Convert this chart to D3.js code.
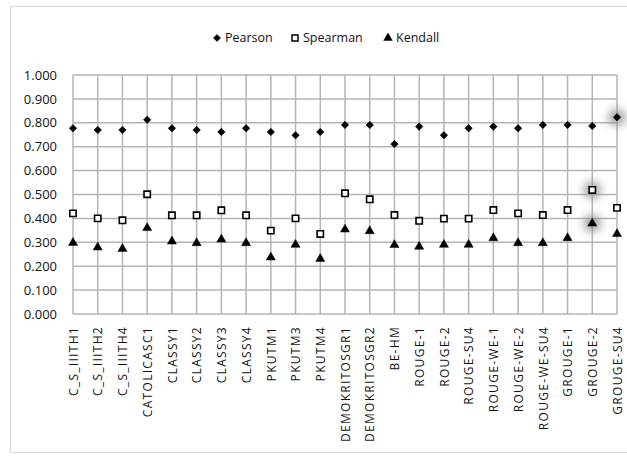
<!DOCTYPE html>
<html>
<head>
<meta charset="utf-8">
<script src="https://cdn.jsdelivr.net/npm/d3@7"></script>
<style>
  body { margin: 0; background: #fff; }
  text { font-family: "Open Sans", sans-serif; fill: #111; }
</style>
</head>
<body>
<div id="chart"></div>
<script>
const systems = ['C_S_IIITH1', 'C_S_IIITH2', 'C_S_IIITH4', 'CATOLICASC1', 'CLASSY1', 'CLASSY2',
  'CLASSY3', 'CLASSY4', 'PKUTM1', 'PKUTM3', 'PKUTM4', 'DEMOKRITOSGR1', 'DEMOKRITOSGR2', 'BE-HM',
  'ROUGE-1', 'ROUGE-2', 'ROUGE-SU4', 'ROUGE-WE-1', 'ROUGE-WE-2', 'ROUGE-WE-SU4', 'GROUGE-1',
  'GROUGE-2', 'GROUGE-SU4']
const pearson = [0.777, 0.770, 0.770, 0.813, 0.777, 0.770, 0.762, 0.777, 0.762, 0.748, 0.762,
  0.791, 0.791, 0.711, 0.784, 0.748, 0.777, 0.784, 0.777, 0.791, 0.791, 0.787, 0.823]
const spearman = [0.421, 0.400, 0.392, 0.501, 0.413, 0.413, 0.434, 0.413, 0.349, 0.400, 0.335,
  0.505, 0.480, 0.414, 0.390, 0.399, 0.399, 0.435, 0.421, 0.414, 0.435, 0.519, 0.444]
const kendall = [0.298, 0.279, 0.273, 0.360, 0.304, 0.297, 0.312, 0.297, 0.237, 0.290, 0.231,
  0.354, 0.347, 0.289, 0.282, 0.290, 0.290, 0.318, 0.297, 0.297, 0.318, 0.379, 0.335]
const yTicks = [0, 0.1, 0.2, 0.3, 0.4, 0.5, 0.6, 0.7, 0.8, 0.9, 1.0]
// points that carry the grey glow in the original
const highlighted = [['Pearson', 'GROUGE-SU4'], ['Spearman', 'GROUGE-2'], ['Kendall', 'GROUGE-2']]

const series = [
  {name: 'Pearson', values: pearson, symbol: d3.symbolDiamond2, fill: '#000', size: 36},
  {name: 'Spearman', values: spearman, symbol: d3.symbolSquare, fill: 'none', size: 40},
  {name: 'Kendall', values: kendall, symbol: d3.symbolTriangle, fill: '#000', size: 36}
]

const W = 627, H = 459
const margin = {top: 75, right: 10, bottom: 145, left: 73}

const svg = d3.select('#chart').append('svg')
  .attr('width', W)
  .attr('height', H)

const defs = svg.append('defs')
defs.append('filter').attr('id', 'glow')
  .attr('x', '-150%').attr('y', '-150%').attr('width', '400%').attr('height', '400%')
  .append('feGaussianBlur').attr('stdDeviation', 4.5)

// outer chart frame
svg.append('rect')
  .attr('x', 10.5).attr('y', 6.5)
  .attr('width', 640).attr('height', 446)
  .attr('fill', '#fff')
  .attr('stroke', '#d9d9d9')

const x = d3.scalePoint()
  .domain(systems)
  .range([margin.left, W - margin.right])
const y = d3.scaleLinear()
  .domain([0, 1])
  .range([H - margin.bottom, margin.top])

// grid
const grid = svg.append('g')
grid.selectAll('.hgrid').data(yTicks)
  .enter().append('line')
  .attr('x1', margin.left).attr('x2', W - margin.right)
  .attr('y1', d => y(d)).attr('y2', d => y(d))
  .attr('stroke', '#b4b4b4').attr('stroke-width', 1.5)
grid.selectAll('.vgrid').data(systems)
  .enter().append('line')
  .attr('x1', d => x(d)).attr('x2', d => x(d))
  .attr('y1', y(0)).attr('y2', y(1))
  .attr('stroke', '#b4b4b4').attr('stroke-width', 1.5)

// y axis
const yAxis = d3.axisLeft(y).tickValues(yTicks).tickFormat(d3.format('.3f')).tickSize(0).tickPadding(16)
svg.append('g')
  .attr('transform', `translate(${margin.left}, 0)`)
  .call(yAxis)
  .call(g => g.select('.domain').remove())
  .selectAll('text')
  .style('font-family', '"Open Sans", sans-serif')
  .style('font-size', '13px')
  .attr('fill', '#111')

// x axis
const xAxis = d3.axisBottom(x).tickSize(0).tickPadding(0)
svg.append('g')
  .attr('transform', `translate(0, ${y(0)})`)
  .call(xAxis)
  .call(g => g.select('.domain').remove())
  .selectAll('text')
  .style('font-family', '"Open Sans", sans-serif')
  .style('font-size', '12px')
  .style('letter-spacing', '1.3px')
  .attr('fill', '#111')
  .attr('transform', 'rotate(-90)')
  .attr('text-anchor', 'end')
  .attr('x', -12)
  .attr('y', 0)
  .attr('dy', '0.35em')

// glow behind highlighted points
const glowData = highlighted.map(([name, sys]) => {
  const s = series.find(s => s.name === name)
  return {x: x(sys), y: y(s.values[systems.indexOf(sys)])}
})
svg.append('g').selectAll('circle').data(glowData)
  .enter().append('circle')
  .attr('cx', d => d.x).attr('cy', d => d.y)
  .attr('r', 9)
  .attr('fill', '#8c8c8c')
  .attr('opacity', 0.75)
  .attr('filter', 'url(#glow)')

// markers
series.forEach(s => {
  const sym = d3.symbol().type(s.symbol).size(s.size)
  svg.append('g').selectAll('path').data(s.values)
    .enter().append('path')
    .attr('d', sym)
    .attr('transform', (d, i) => `translate(${x(systems[i])}, ${y(d)})`)
    .attr('fill', s.fill === 'none' ? '#fff' : s.fill)
    .attr('stroke', '#000')
    .attr('stroke-width', s.fill === 'none' ? 1.6 : 0.5)
})

// legend
const legendX = [217, 295, 388]
const legend = svg.append('g')
series.forEach((s, i) => {
  const g = legend.append('g').attr('transform', `translate(${legendX[i]}, 38)`)
  g.append('path')
    .attr('d', d3.symbol().type(s.symbol).size(s.size * 0.9))
    .attr('fill', s.fill === 'none' ? '#fff' : s.fill)
    .attr('stroke', '#000')
    .attr('stroke-width', s.fill === 'none' ? 1.5 : 0.5)
  g.append('text')
    .attr('x', 8)
    .attr('dy', '0.35em')
    .style('font-size', '12.5px')
    .text(s.name)
})
</script>
</body>
</html>
